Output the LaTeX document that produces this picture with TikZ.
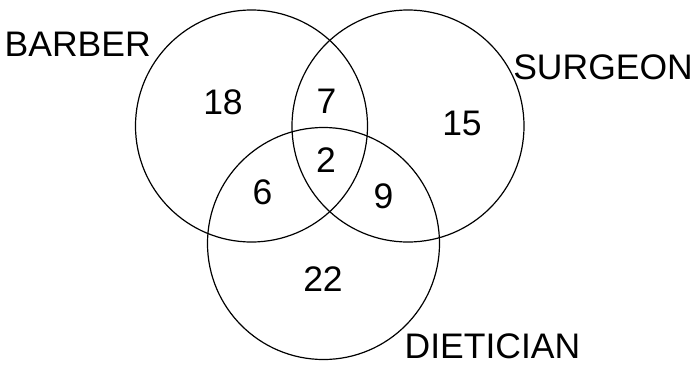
\documentclass[tikz,border=0pt]{standalone}
\usepackage{fontspec}
\setmainfont{Liberation Sans}
\usepackage{tikz}
\usetikzlibrary{positioning}

\begin{document}
\begin{tikzpicture}[x=1pt,y=-1pt, every node/.style={font=\fontsize{35.5}{38}\selectfont,inner sep=0pt},
  setcirc/.style={draw,circle,line width=1.2pt,minimum size=232pt}]
\useasboundingbox (0,0) rectangle (694,365);
% the three sets
\node[setcirc] (barber) at (251.5,126) {};
\node[setcirc] (surgeon) at (408,126) {};
\node[setcirc] (dietician) at (323.5,243.5) {};
% set names
\node[anchor=base west] (lbarber) at (4.5,56.7) {BARBER};
\node[anchor=base east] (lsurgeon) at (693,79.3) {SURGEON};
\node[anchor=base west] (ldietician) at (404.5,358) {DIETICIAN};
% counts
\node (nb) at (223,102) {18};
\node (nbs) at (326.5,101) {7};
\node (ns) at (462,123.7) {15};
\node (nall) at (326,160) {2};
\node (nbd) at (262.5,192) {6};
\node (nsd) at (383.5,196.5) {9};
\node (nd) at (323,279.5) {22};
\end{tikzpicture}
\end{document}
